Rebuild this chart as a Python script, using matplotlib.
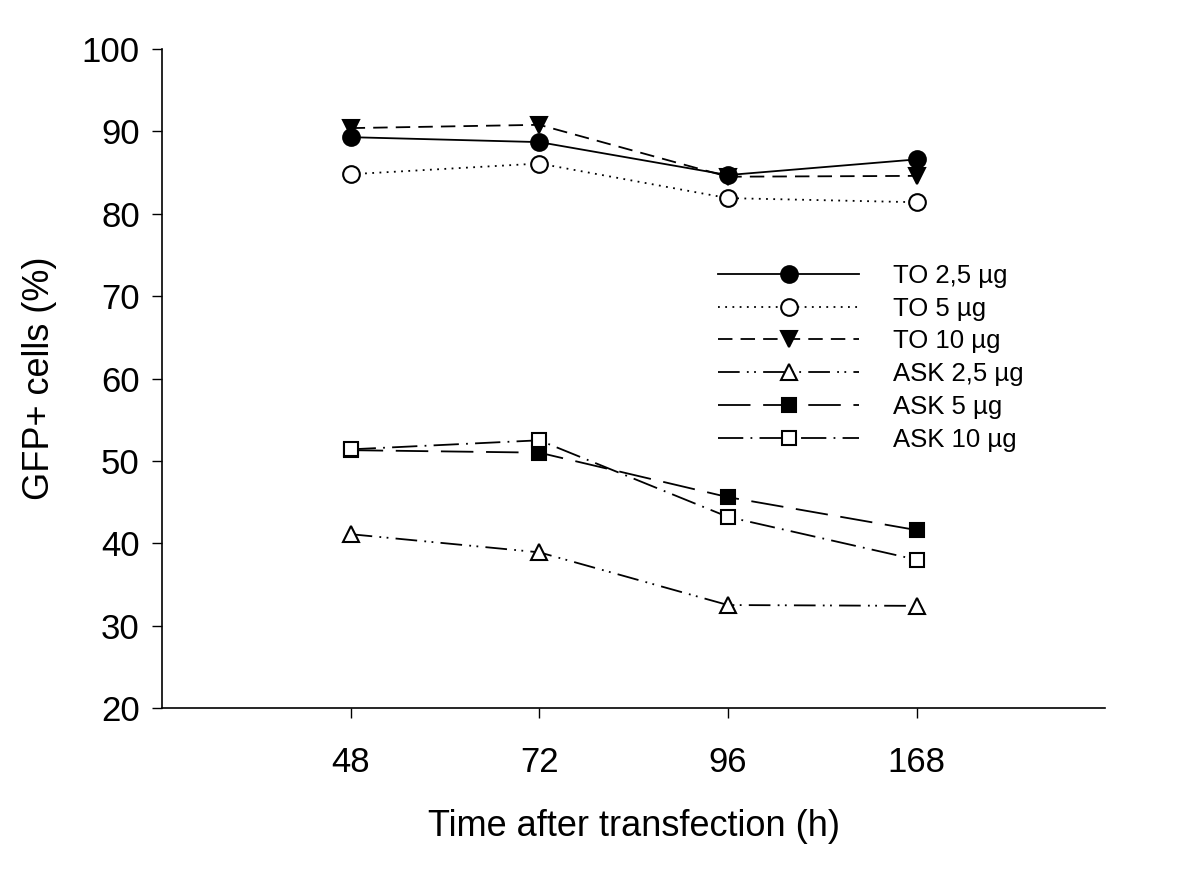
import matplotlib
matplotlib.use("Agg")
import matplotlib.pyplot as plt

plt.rcParams["font.family"] = ["Liberation Sans", "DejaVu Sans"]

# data
times = ["48", "72", "96", "168"]
to_25 = [89.3, 88.7, 84.7, 86.6]
to_5 = [84.8, 86.1, 81.9, 81.4]
to_10 = [90.4, 90.8, 84.5, 84.6]
ask_25 = [41.1, 38.9, 32.5, 32.4]
ask_5 = [51.3, 51.0, 45.6, 41.6]
ask_10 = [51.4, 52.5, 43.2, 38.0]

lw = 1.3
fig = plt.figure(figsize=(12, 8.85), dpi=100)
ax = fig.add_axes([0.135, 0.2, 0.786, 0.7446])

x = range(1, len(times) + 1)

ax.plot(x, to_25, color="black", lw=lw, ls="-", marker="o", ms=12,
        mfc="black", mec="black", mew=1.5, label="TO 2,5 µg")
ax.plot(x, to_5, color="black", lw=lw, ls=(0, (1, 3)), marker="o", ms=12,
        mfc="white", mec="black", mew=1.5, label="TO 5 µg")
ax.plot(x, to_10, color="black", lw=lw, ls=(0, (8, 4.5)), marker="v", ms=12,
        mfc="black", mec="black", mew=1.5, label="TO 10 µg")
ax.plot(x, ask_25, color="black", lw=lw, ls=(0, (12, 4, 1, 3, 1, 4)), marker="^",
        ms=12, mfc="white", mec="black", mew=1.5, label="ASK 2,5 µg")
ax.plot(x, ask_5, color="black", lw=lw, ls=(0, (18, 7)), marker="s", ms=10,
        mfc="black", mec="black", mew=1.5, label="ASK 5 µg")
ax.plot(x, ask_10, color="black", lw=lw, ls=(0, (14, 4, 1, 4)), marker="s", ms=10,
        mfc="white", mec="black", mew=1.5, label="ASK 10 µg")

ax.set_xlim(0, 5)
ax.set_ylim(20, 100)
ax.set_xticks(list(x))
ax.set_xticklabels(times)
ax.set_yticks(range(20, 101, 10))
ax.tick_params(direction="out", length=7, width=1, labelsize=25, pad=9)
ax.tick_params(axis="x", pad=20)
for s in ["top", "right"]:
    ax.spines[s].set_visible(False)
for s in ["left", "bottom"]:
    ax.spines[s].set_linewidth(1.2)

ax.set_xlabel("Time after transfection (h)", fontsize=26, labelpad=22)
ax.set_ylabel("GFP+ cells (%)", fontsize=26, labelpad=18)

ax.legend(loc="upper left", bbox_to_anchor=(0.5785, 0.6895), frameon=False,
          fontsize=18.5, handlelength=5.5, handletextpad=1.3, labelspacing=0.34,
          borderaxespad=0)

fig.savefig("out.png", dpi=100)
